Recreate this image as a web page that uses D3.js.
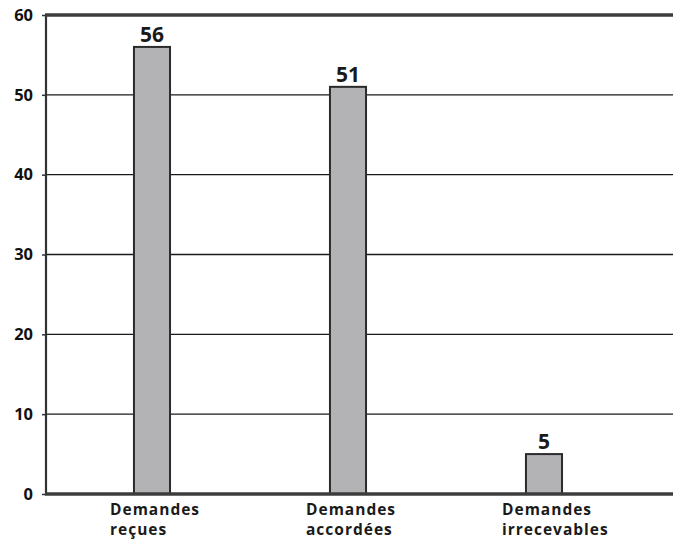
<!DOCTYPE html>
<html><head><meta charset="utf-8">
<script src="https://cdn.jsdelivr.net/npm/d3@7"></script>
<style>body{margin:0;background:#fff}svg{display:block}</style>
</head><body>
<script>
const categories = [["Demandes","reçues"],["Demandes","accordées"],["Demandes","irrecevables"]];
const values = [56, 51, 5];
const yTicks = [0,10,20,30,40,50,60];

const W = 673, H = 541;
const svg = d3.select("body").append("svg").attr("width", W).attr("height", H);
const x = d3.scaleBand().domain(d3.range(categories.length)).range([54, 642]).paddingInner(0.816).paddingOuter(0.408);
const y = d3.scaleLinear().domain([0, 60]).range([494, 15]);
const left = 46, right = 673;
const font = "'Open Sans', sans-serif";

// gridlines
svg.append("g").selectAll("line").data(yTicks.filter(t => t > 0 && t < 60)).join("line")
  .attr("x1", left).attr("x2", right).attr("y1", d => y(d)).attr("y2", d => y(d))
  .attr("stroke", "#1a1a1a").attr("stroke-width", 1.3);
// y axis
const ya = svg.append("g").attr("transform", `translate(${left},0)`)
  .call(d3.axisLeft(y).tickValues(yTicks).tickSize(4).tickPadding(9));
ya.select(".domain").remove();
ya.selectAll("line").attr("stroke", "#333").attr("stroke-width", 1.5);
ya.selectAll("text").attr("font-family", font).attr("font-weight", 700).attr("font-size", 16.5).attr("fill", "#111");
svg.append("line").attr("x1", left).attr("x2", left).attr("y1", y(60)).attr("y2", y(0)).attr("stroke", "#333").attr("stroke-width", 2.2);
// top and bottom thick lines
svg.append("line").attr("x1", left-1).attr("x2", right).attr("y1", y(60)).attr("y2", y(60)).attr("stroke", "#3c3c3c").attr("stroke-width", 3.5);
// bars
svg.append("g").selectAll("rect").data(values).join("rect")
  .attr("x", (d,i) => x(i)).attr("width", x.bandwidth())
  .attr("y", d => y(d)).attr("height", d => y(0) - y(d))
  .attr("fill", "#b3b3b6").attr("stroke", "#2b2b2b").attr("stroke-width", 2);
svg.append("line").attr("x1", left-1).attr("x2", right).attr("y1", y(0)).attr("y2", y(0)).attr("stroke", "#3c3c3c").attr("stroke-width", 3.5);
// value labels
svg.append("g").selectAll("text").data(values).join("text")
  .attr("x", (d,i) => x(i) + x.bandwidth()/2).attr("y", d => y(d) - 5)
  .attr("text-anchor", "middle").attr("font-family", font).attr("font-weight", 700).attr("font-size", 21).attr("fill", "#1a1a1a")
  .text(d => d);
// category labels (two lines, left-aligned)
const lines = [];
categories.forEach((c, i) => c.forEach((t, j) => lines.push({i, j, t})));
svg.append("g").selectAll("text").data(lines).join("text")
  .attr("x", d => x(d.i) + x.bandwidth()/2 - 42)
  .attr("y", d => 515 + d.j * 20)
  .attr("font-family", font).attr("font-weight", 700).attr("font-size", 15.5).attr("fill", "#1a1a1a").attr("letter-spacing", 1)
  .text(d => d.t);
</script>
</body></html>
